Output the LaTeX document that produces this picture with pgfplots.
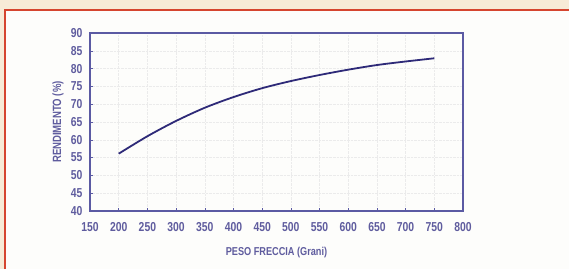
\documentclass[border=0pt]{standalone}
\usepackage{pgfplots}
\pgfplotsset{compat=1.18}
\usepackage{fontspec}
\setmainfont{Liberation Sans}[FakeStretch=0.8, BoldFont={Liberation Sans Bold}, BoldFeatures={FakeStretch=0.8}]
\definecolor{cream}{HTML}{F7EBD7}
\definecolor{frame}{HTML}{D5452F}
\definecolor{inner}{HTML}{FDFDFB}
\definecolor{axc}{HTML}{5B5AA3}
\definecolor{txt}{HTML}{5F5C9E}
\definecolor{curve}{HTML}{2E2A78}
\begin{document}
\begin{tikzpicture}[x=1bp,y=1bp]
\useasboundingbox (0,0) rectangle (569,269);
\fill[cream] (0,0) rectangle (569,269);
\fill[inner] (5,0) rectangle (569,259);
\draw[frame, line width=2bp] (5,0) -- (5,259) -- (569,259);
\begin{axis}[
  at={(90bp,58bp)}, anchor=south west,
  width=373bp, height=178bp, scale only axis,
  xmin=150, xmax=800, ymin=40, ymax=90,
  xtick={150,200,...,800}, ytick={40,45,...,90},
  axis line style={axc, line width=1.3bp},
  tick style={axc, thin}, major tick length=3bp,
  tick align=inside, tick pos=left,
  grid=major, major grid style={densely dotted, black!8},
  /pgf/number format/assume math mode=true,
  ticklabel style={font=\bfseries\fontsize{13}{13}\selectfont, text=txt},
  yticklabel style={xshift=-4bp},
  xticklabel style={yshift=-8bp},
  xlabel={PESO FRECCIA (Grani)},
  ylabel={RENDIMENTO (\%)},
  xlabel style={at={(axis description cs:0.5,-0.236)}, anchor=center, font=\bfseries\fontsize{11.5}{11.5}\selectfont, text=txt},
  ylabel style={at={(axis description cs:-0.086,0.5)}, anchor=center, font=\bfseries\fontsize{12}{12}\selectfont, text=txt},
]
\addplot[curve, line width=1.8bp, smooth, no markers] coordinates {
(200,56.1)(250,61.0)(300,65.3)(350,69.0)(400,72.0)(450,74.5)(500,76.5)(550,78.2)(600,79.7)(650,81.0)(700,82.0)(750,82.9)
};
\end{axis}
\end{tikzpicture}
\end{document}
